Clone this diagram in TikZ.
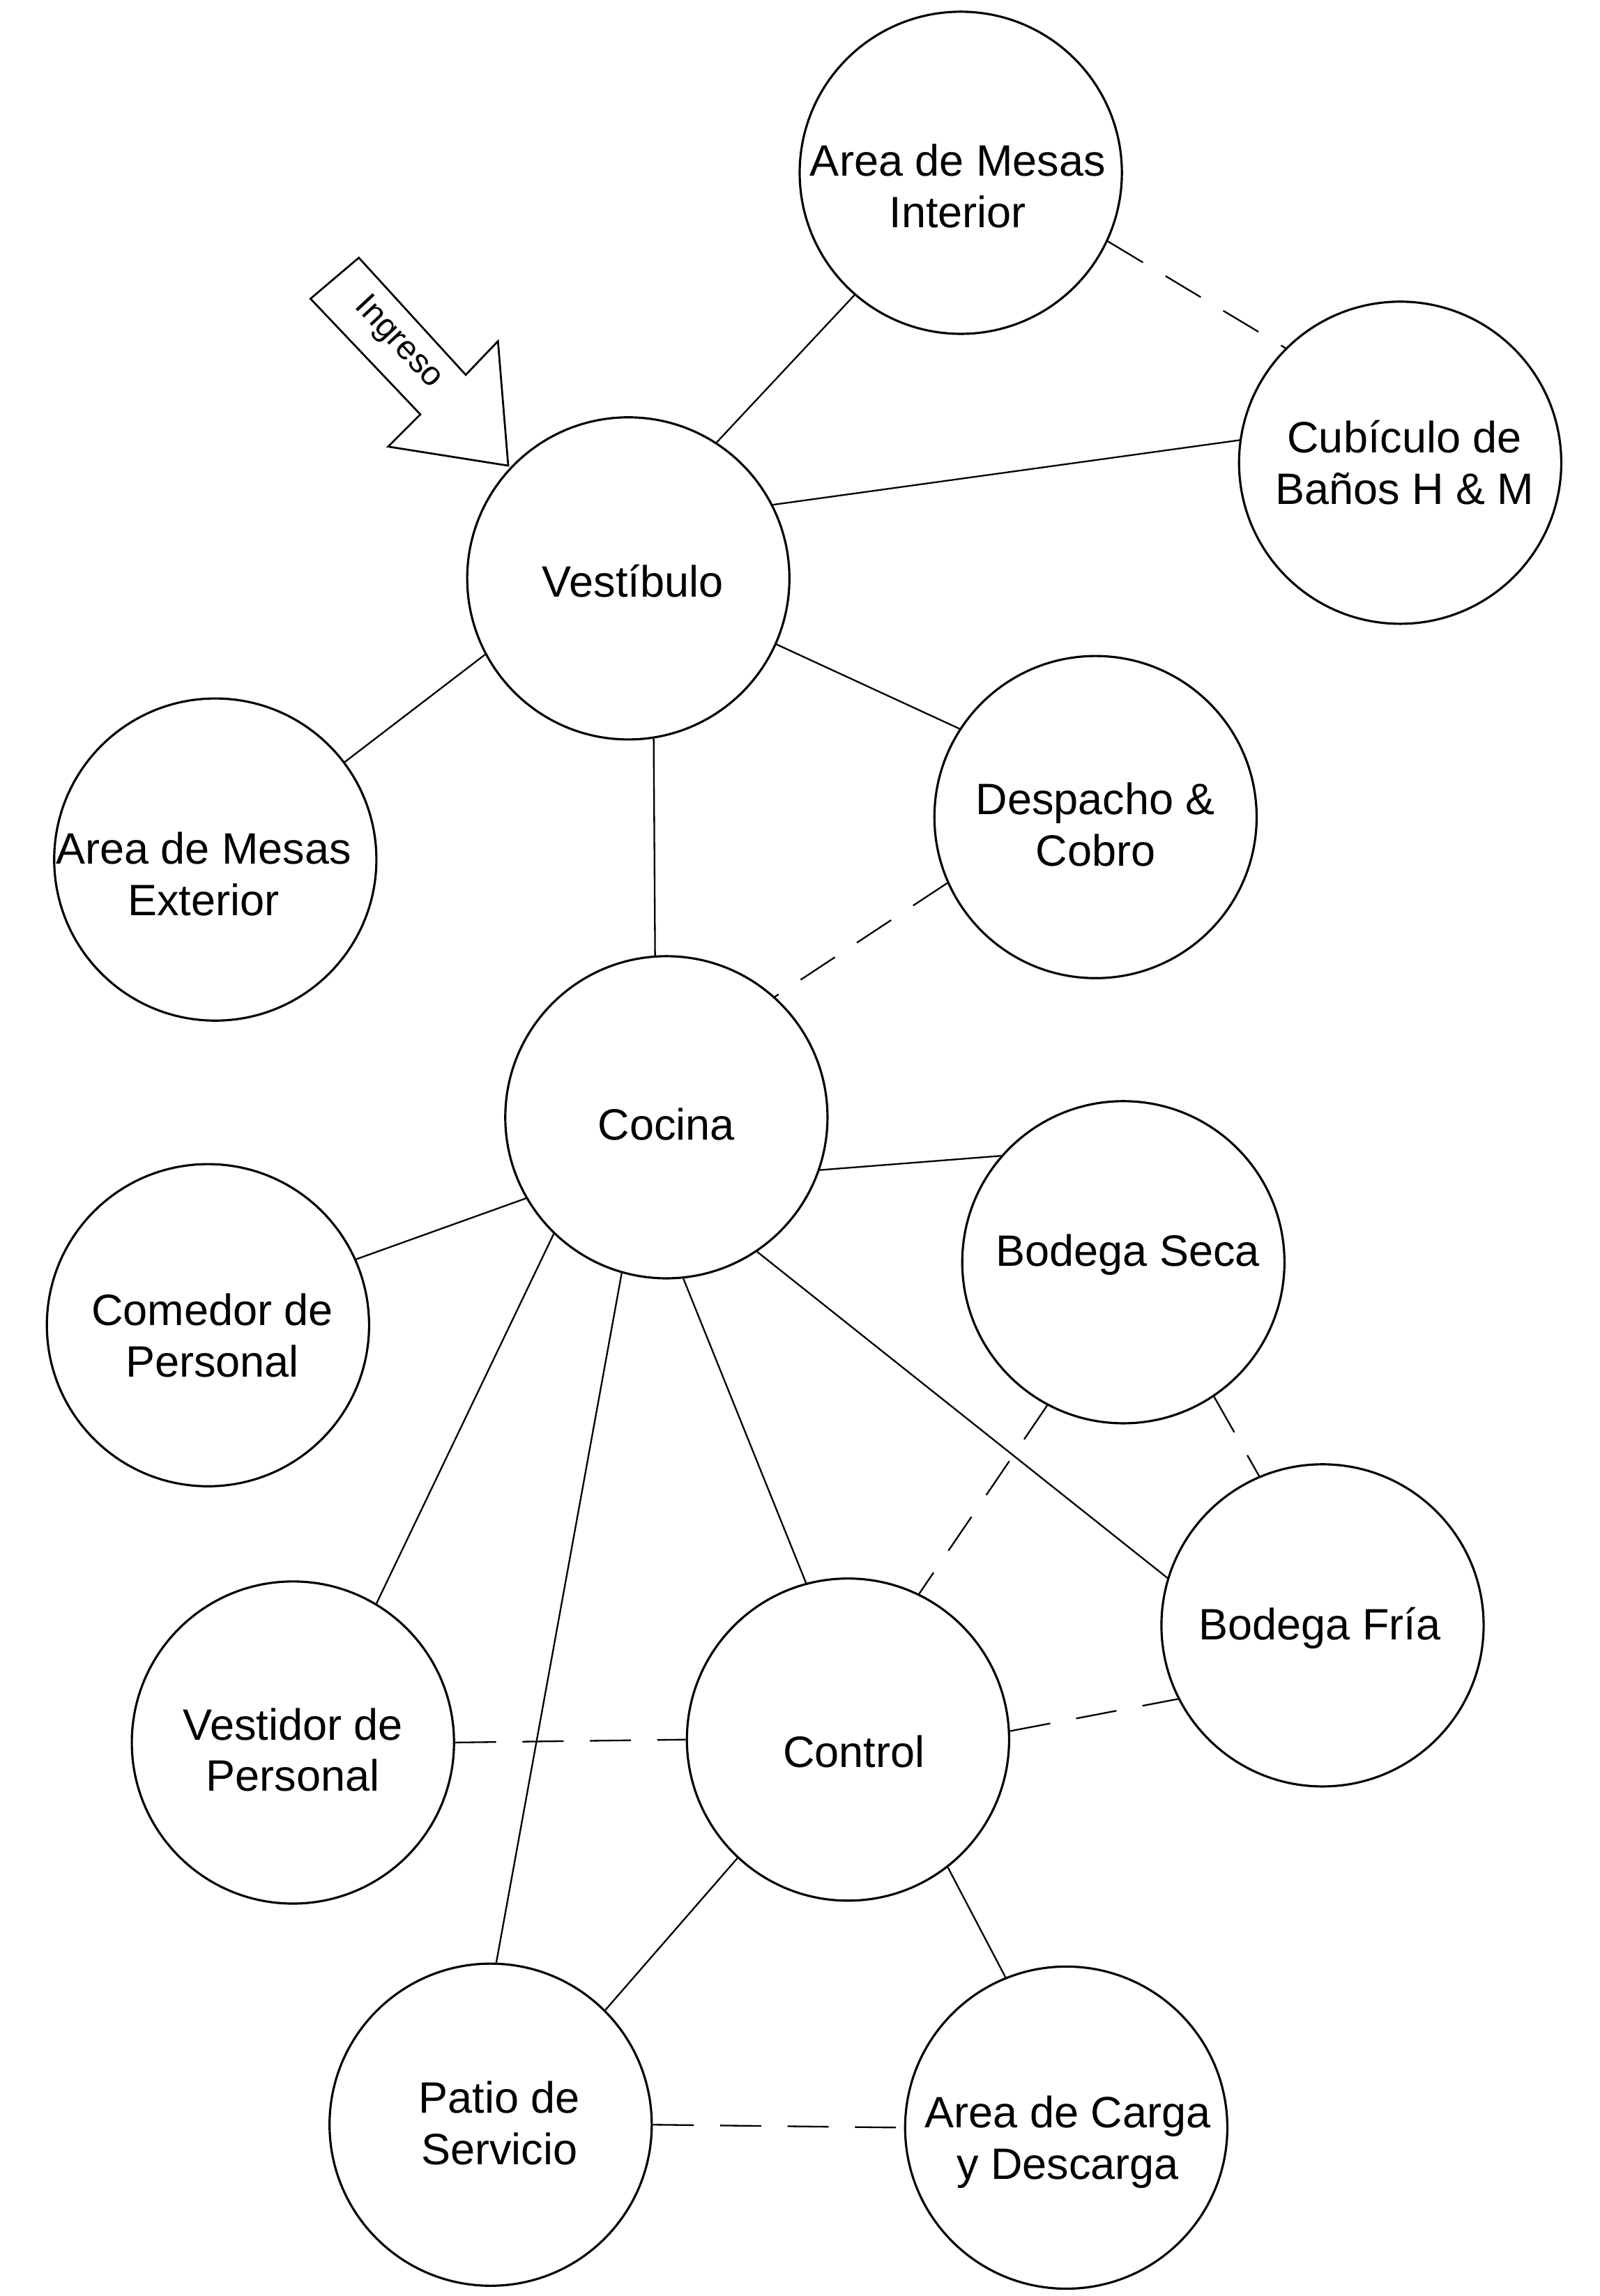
\documentclass[tikz,border=0pt]{standalone}
\usepackage{fontspec}
\setmainfont{Liberation Sans}
\begin{document}
\begin{tikzpicture}[x=1pt,y=1pt,
  bubble/.style={circle,draw,line width=1.5pt,minimum size=220pt,inner sep=0pt},
  lbl/.style={align=center,font=\fontsize{30}{35}\selectfont,inner sep=0pt},
  link/.style={line width=1.1pt},
  dlink/.style={line width=1.1pt,dash pattern=on 28pt off 18pt}]
\useasboundingbox (0,0) rectangle (1092,-1568);
% bubbles
\node[bubble] (mi)  at (656,-118)  {};
\node[bubble] (cub) at (956,-316)  {};
\node[bubble] (ves) at (429,-395)  {};
\node[bubble] (mex) at (147,-587)  {};
\node[bubble] (des) at (748,-558)  {};
\node[bubble] (coc) at (455,-763)  {};
\node[bubble] (bse) at (767,-862)  {};
\node[bubble] (com) at (142,-905)  {};
\node[bubble] (bfr) at (903,-1110) {};
\node[bubble] (vdr) at (200,-1190) {};
\node[bubble] (ctl) at (579,-1188) {};
\node[bubble] (pat) at (335,-1451) {};
\node[bubble] (car) at (728,-1453) {};
% labels
\node[lbl] (miT)  at (654,-127)  {Area de Mesas\\Interior};
\node[lbl] (cubT) at (959,-316)  {Cubículo de\\Baños H \& M};
\node[lbl] (vesT) at (432,-397)  {Vestíbulo};
\node[lbl] (mexT) at (139,-597)  {Area de Mesas\\Exterior};
\node[lbl] (desT) at (748,-563)  {Despacho \&\\Cobro};
\node[lbl] (cocT) at (455,-768)  {Cocina};
\node[lbl] (bseT) at (770,-857)  {Bodega Seca};
\node[lbl] (comT) at (145,-912)  {Comedor de\\Personal};
\node[lbl] (bfrT) at (901,-1112) {Bodega Fría};
\node[lbl] (vdrT) at (200,-1195) {Vestidor de\\Personal};
\node[lbl] (ctlT) at (583,-1196) {Control};
\node[lbl] (patT) at (341,-1450) {Patio de\\Servicio};
\node[lbl] (carT) at (729,-1463) {Area de Carga\\y Descarga};
% entrance arrow
\draw[line width=1.3pt,line join=miter] (245,-176) -- (318,-256) -- (340,-233) -- (347,-318)
  -- (265,-305) -- (287,-283) -- (212,-204) -- cycle;
\node[font=\fontsize{23}{25}\selectfont,rotate=-47,inner sep=0pt] (ing) at (272,-234) {Ingreso};
% connectors
\draw[link]  (ves.57)   -- (mi.229);
\draw[dlink] (mi.-25)   -- (cub.135);
\draw[link]  (ves.27)   -- (cub.172);
\draw[link]  (ves.208)  -- (mex.37);
\draw[link]  (ves.-24)  -- (des.147);
\draw[link]  (ves.-81)  -- (coc.94);
\draw[dlink] (des.204)  -- (coc.48);
\draw[link]  (coc.-19)  -- (bse.139);
\draw[link]  (coc.210)  -- (com.24);
\draw[link]  (coc.226)  -- (vdr.59);
\draw[link]  (coc.-106) -- (pat.88);
\draw[link]  (coc.-84)  -- (ctl.105);
\draw[link]  (coc.-56)  -- (bfr.163);
\draw[dlink] (bse.-118) -- (ctl.64);
\draw[dlink] (bse.-56)  -- (bfr.113);
\draw[dlink] (vdr.0)    -- (ctl.180);
\draw[dlink] (ctl.3)    -- (bfr.207);
\draw[link]  (ctl.227)  -- (pat.45);
\draw[link]  (ctl.-52)  -- (car.112);
\draw[dlink] (pat.0)    -- (car.180);
\end{tikzpicture}
\end{document}
